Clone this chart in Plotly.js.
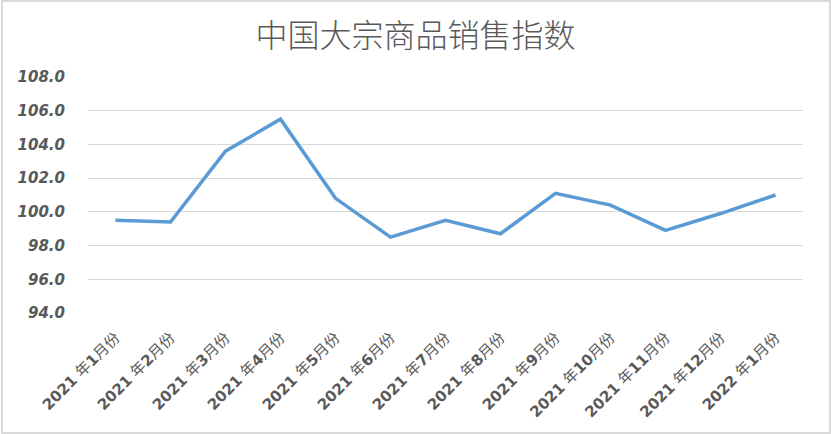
<!DOCTYPE html>
<html>
<head>
<meta charset="utf-8">
<script src="https://cdn.plot.ly/plotly-3.0.1.min.js"></script>
<style>
html,body{margin:0;padding:0;background:#fff;}
#wrap{position:relative;width:831px;height:434px;}
#chart{width:831px;height:434px;}
#frame{position:absolute;left:1px;top:0px;width:826px;height:430px;border:2px solid #d9d9d9;pointer-events:none;}
</style>
</head>
<body>
<div id="wrap"><div id="chart"></div><div id="frame"></div></div>
<script>
const chartTitle = "中国大宗商品销售指数";
const categories = ["2021年1月份","2021年2月份","2021年3月份","2021年4月份","2021年5月份","2021年6月份","2021年7月份","2021年8月份","2021年9月份","2021年10月份","2021年11月份","2021年12月份","2022年1月份"];
const salesIndex = [99.5, 99.4, 103.6, 105.5, 100.8, 98.5, 99.5, 98.7, 101.1, 100.4, 98.9, 99.9, 101.0];
const yTickValues = [94, 96, 98, 100, 102, 104, 106, 108];
const yTickLabels = ["94.0","96.0","98.0","100.0","102.0","104.0","106.0","108.0"];

const xTickText = categories.map(c => c.replace(/^(\d+)年/, "<b>$1</b> 年").replace(/年(\d+)月/, "年<b>$1</b>月"));

const trace = {
  type: "scatter",
  mode: "lines",
  x: categories,
  y: salesIndex,
  line: {color: "#5b9bd5", width: 3.5},
  hoverinfo: "x+y"
};

const layout = {
  width: 831,
  height: 434,
  margin: {l: 88, r: 28, t: 77, b: 121},
  paper_bgcolor: "#ffffff",
  plot_bgcolor: "#ffffff",
  showlegend: false,
  title: {
    text: chartTitle,
    x: 0.5, xref: "container", xanchor: "center",
    y: 1 - 36/434, yref: "container", yanchor: "middle",
    font: {family: "Noto Sans CJK SC", size: 32, color: "#595959", weight: 300}
  },
  xaxis: {
    type: "category",
    tickvals: categories,
    ticktext: xTickText,
    tickangle: -45,
    showgrid: false,
    showline: false,
    zeroline: false,
    ticks: "",
    ticklabelstandoff: 12,
    tickfont: {family: "DejaVu Sans, Noto Sans CJK SC", size: 15, color: "#595959"},
    range: [-0.5, categories.length - 0.5]
  },
  yaxis: {
    range: [94, 108],
    tickvals: yTickValues,
    ticktext: yTickLabels,
    showgrid: true,
    gridcolor: "#d9d9d9",
    gridwidth: 1,
    zeroline: false,
    showline: false,
    ticks: "",
    ticklabelstandoff: 22,
    tickfont: {family: "DejaVu Sans", size: 15, color: "#595959", weight: "bold", style: "italic"}
  }
};

Plotly.newPlot("chart", [trace], layout, {displayModeBar: false, staticPlot: true});
</script>
</body>
</html>
